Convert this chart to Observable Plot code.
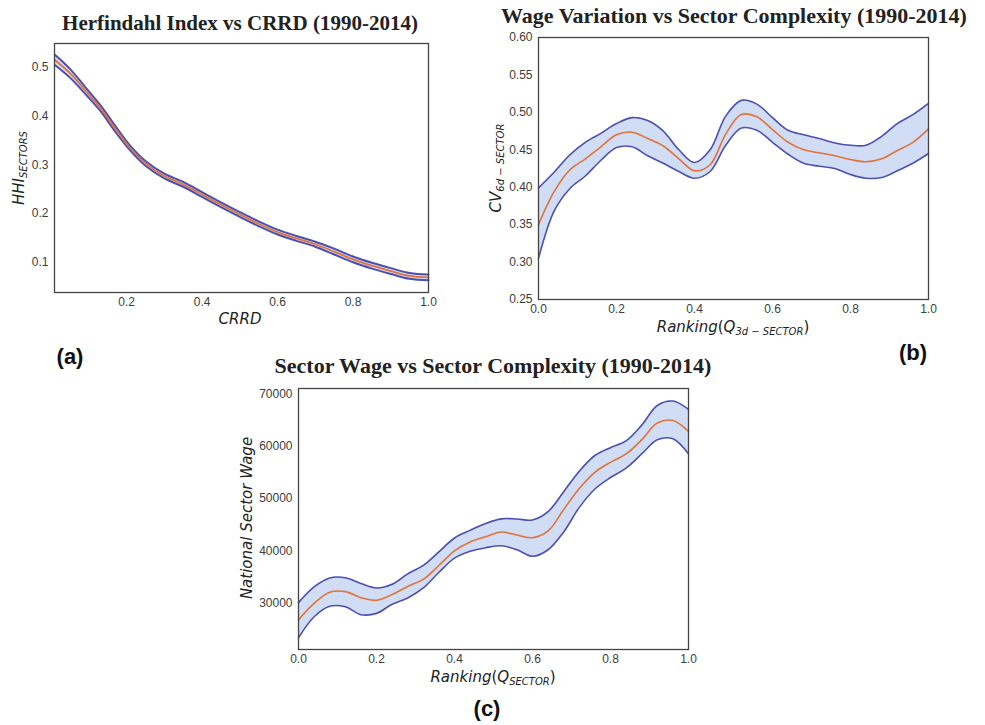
<!DOCTYPE html>
<html><head><meta charset="utf-8">
<script src="https://cdn.jsdelivr.net/npm/d3@7"></script>
<script src="https://cdn.jsdelivr.net/npm/@observablehq/plot@0.6"></script>
<style>
body{margin:0;background:#fff;}
#root{position:relative;width:985px;height:725px;overflow:hidden;background:#fff;}
.t{position:absolute;transform:translate(-50%,-50%);white-space:nowrap;line-height:1;}
.title{font-family:"Liberation Serif","Times New Roman",serif;font-weight:bold;font-size:22px;color:#222;}
.lab{font-family:"DejaVu Sans",sans-serif;font-style:italic;font-size:15px;color:#222;}
.lab sub{font-size:10px;vertical-align:-3px;font-style:italic;}
.up{font-style:normal;}
.rot{transform:translate(-50%,-50%) rotate(-90deg);}
.pl{font-family:"Liberation Sans",Arial,sans-serif;font-weight:bold;font-size:22px;color:#111;}
</style></head><body><div id="root"></div>
<script>
// ---------- Panel (a): Herfindahl Index vs CRRD ----------
const aX     = [0.01, 0.05, 0.09, 0.13, 0.17, 0.21, 0.25, 0.30, 0.35, 0.40, 0.45, 0.50, 0.55, 0.60, 0.65, 0.70, 0.75, 0.80, 0.85, 0.90, 0.95, 1.00];
const aMean  = [0.515, 0.488, 0.453, 0.417, 0.374, 0.334, 0.303, 0.277, 0.260, 0.239, 0.218, 0.198, 0.179, 0.162, 0.149, 0.137, 0.122, 0.106, 0.093, 0.082, 0.072, 0.069];
const aUpper = [0.526, 0.497, 0.460, 0.423, 0.380, 0.339, 0.308, 0.282, 0.265, 0.244, 0.223, 0.203, 0.184, 0.167, 0.154, 0.142, 0.128, 0.112, 0.099, 0.088, 0.078, 0.075];
const aLower = [0.505, 0.479, 0.446, 0.411, 0.368, 0.329, 0.298, 0.272, 0.255, 0.234, 0.213, 0.193, 0.174, 0.157, 0.144, 0.132, 0.116, 0.100, 0.087, 0.076, 0.066, 0.063];
const aTicksX = [0.2, 0.4, 0.6, 0.8, 1.0];
const aTicksY = [0.1, 0.2, 0.3, 0.4, 0.5];

// ---------- Panel (b): Wage Variation vs Sector Complexity ----------
const bX     = [0, 0.04, 0.08, 0.12, 0.16, 0.20, 0.24, 0.28, 0.32, 0.36, 0.40, 0.44, 0.48, 0.52, 0.56, 0.60, 0.64, 0.68, 0.72, 0.76, 0.80, 0.84, 0.88, 0.92, 0.96, 1.00];
const bMean  = [0.350, 0.394, 0.423, 0.438, 0.454, 0.470, 0.4735, 0.465, 0.455, 0.438, 0.422, 0.430, 0.471, 0.497, 0.494, 0.477, 0.460, 0.450, 0.446, 0.442, 0.437, 0.434, 0.438, 0.449, 0.460, 0.478];
const bUpper = [0.399, 0.420, 0.443, 0.460, 0.472, 0.485, 0.493, 0.489, 0.475, 0.450, 0.433, 0.450, 0.495, 0.516, 0.511, 0.493, 0.476, 0.470, 0.465, 0.459, 0.456, 0.456, 0.468, 0.485, 0.497, 0.512];
const bLower = [0.305, 0.368, 0.398, 0.415, 0.436, 0.453, 0.454, 0.442, 0.432, 0.421, 0.412, 0.421, 0.456, 0.479, 0.476, 0.460, 0.444, 0.432, 0.428, 0.425, 0.417, 0.412, 0.413, 0.422, 0.432, 0.445];
const bTicksX = [0, 0.2, 0.4, 0.6, 0.8, 1.0];
const bTicksY = [0.25, 0.30, 0.35, 0.40, 0.45, 0.50, 0.55, 0.60];

// ---------- Panel (c): Sector Wage vs Sector Complexity ----------
const cX     = [0, 0.04, 0.08, 0.12, 0.16, 0.20, 0.24, 0.28, 0.32, 0.36, 0.40, 0.44, 0.48, 0.52, 0.56, 0.60, 0.64, 0.68, 0.72, 0.76, 0.80, 0.84, 0.88, 0.92, 0.96, 1.00];
const cMean  = [26800, 29950, 32100, 32200, 31050, 30550, 31650, 33200, 34550, 37200, 40000, 41700, 42700, 43600, 43010, 42500, 43800, 47900, 51900, 55000, 56900, 58500, 61200, 64400, 64900, 62800];
const cUpper = [30100, 33100, 34800, 34850, 33750, 32900, 33600, 35600, 37200, 39800, 42450, 43900, 45200, 46100, 46080, 45900, 47500, 51300, 55200, 58200, 59700, 61000, 64000, 67760, 68600, 67000];
const cLower = [23400, 27400, 29400, 29300, 27800, 28050, 29800, 31000, 32900, 35900, 38600, 39900, 40600, 40970, 40200, 38950, 40200, 43600, 48300, 51800, 54000, 55800, 58500, 61200, 61400, 58500];
const cTicksX = [0, 0.2, 0.4, 0.6, 0.8, 1.0];
const cTicksY = [30000, 40000, 50000, 60000, 70000];

const BAND = "#4b50b0", FILL = "#d1dcf5", MEAN = "#e0733a";
const root = document.getElementById("root");

function panel(o) {
  const rows = o.xs.map((x, i) => ({x, m: o.mean[i], u: o.upper[i], l: o.lower[i]}));
  const curve = "catmull-rom";
  const svg = Plot.plot({
    width: o.width, height: o.height,
    marginLeft: o.ml, marginRight: o.mr, marginTop: o.mt, marginBottom: o.mb,
    x: {domain: o.xDomain},
    y: {domain: o.yDomain},
    style: {fontFamily: "'Liberation Sans', Arial, sans-serif", fontSize: "12px", color: "#3c3c3c", background: "transparent"},
    marks: [
      Plot.areaY(rows, {x: "x", y1: "l", y2: "u", fill: FILL, curve}),
      Plot.lineY(rows, {x: "x", y: "l", stroke: BAND, strokeWidth: o.sw, curve}),
      Plot.lineY(rows, {x: "x", y: "u", stroke: BAND, strokeWidth: o.sw, curve}),
      Plot.lineY(rows, {x: "x", y: "m", stroke: MEAN, strokeWidth: o.msw, curve}),
      Plot.frame({stroke: "#444", strokeWidth: 1.3}),
      Plot.axisX({ticks: o.xTicks, tickFormat: o.xFmt, tickSize: 0, tickPadding: 5, label: null}),
      Plot.axisY({ticks: o.yTicks, tickFormat: o.yFmt, tickSize: 0, tickPadding: 6, label: null})
    ]
  });
  svg.style.position = "absolute";
  svg.style.left = o.left + "px";
  svg.style.top = o.top + "px";
  svg.style.maxWidth = "none";
  root.appendChild(svg);
}

panel({xs: aX, mean: aMean, upper: aUpper, lower: aLower,
  xDomain: [0.009, 1.0], yDomain: [0.038, 0.549], xTicks: aTicksX, yTicks: aTicksY,
  xFmt: d3.format(".1f"), yFmt: d3.format(".1f"),
  left: 0, top: 0, width: 450, height: 330, ml: 54, mr: 22, mt: 43, mb: 38, sw: 2, msw: 1.8});

panel({xs: bX, mean: bMean, upper: bUpper, lower: bLower,
  xDomain: [0, 1], yDomain: [0.25, 0.60], xTicks: bTicksX, yTicks: bTicksY,
  xFmt: d3.format(".1f"), yFmt: d3.format(".2f"),
  left: 480, top: 0, width: 505, height: 330, ml: 58, mr: 57, mt: 37, mb: 31, sw: 1.6, msw: 1.6});

panel({xs: cX, mean: cMean, upper: cUpper, lower: cLower,
  xDomain: [0, 1], yDomain: [21150, 71000], xTicks: cTicksX, yTicks: cTicksY,
  xFmt: d3.format(".1f"), yFmt: d3.format("d"),
  left: 220, top: 350, width: 500, height: 330, ml: 78, mr: 32, mt: 38, mb: 31, sw: 1.6, msw: 1.6});

function text(html, cls, x, y, size) {
  const d = document.createElement("div");
  d.className = "t " + cls;
  d.innerHTML = html;
  d.style.left = x + "px";
  d.style.top = y + "px";
  if (size) d.style.fontSize = size + "px";
  root.appendChild(d);
}

text("Herfindahl Index vs CRRD (1990-2014)", "title", 240, 23, 21);
text("Wage Variation vs Sector Complexity (1990-2014)", "title", 734, 16, 22);
text("Sector Wage vs Sector Complexity (1990-2014)", "title", 493, 366, 22);

text("HHI<sub>SECTORS</sub>", "lab rot", 20, 168);
text("CRRD", "lab", 240, 319);
text("CV<sub>6d − SECTOR</sub>", "lab rot", 497, 168);
text("Ranking<span class='up'>(</span>Q<sub>3d − SECTOR</sub><span class='up'>)</span>", "lab", 733, 328);
text("National Sector Wage", "lab rot", 247, 518);
text("Ranking<span class='up'>(</span>Q<sub>SECTOR</sub><span class='up'>)</span>", "lab", 493, 678);

text("(a)", "pl", 70, 357);
text("(b)", "pl", 913, 353);
text("(c)", "pl", 487, 709);
</script></body></html>
